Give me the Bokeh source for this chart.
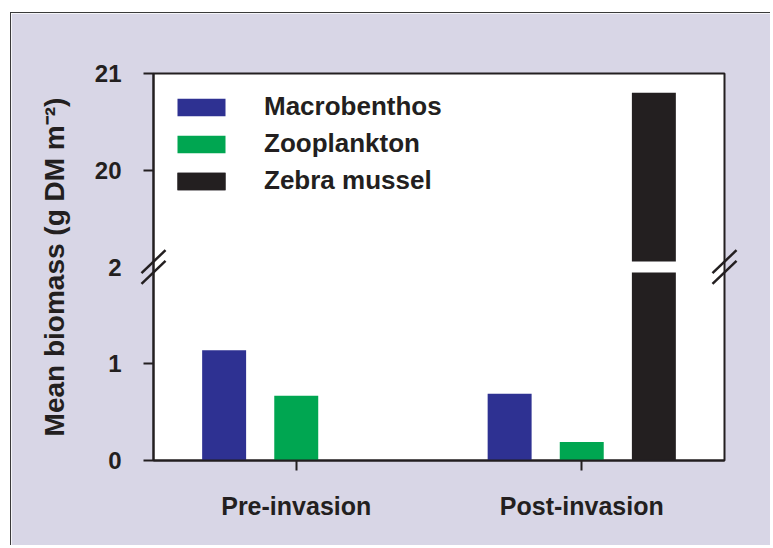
from bokeh.plotting import figure
from bokeh.models import (FactorRange, Range1d, FixedTicker, Legend, LegendItem,
                          ColumnDataSource, Spacer)
from bokeh.transform import dodge
from bokeh.layouts import column, row
from bokeh.embed import file_html
from bokeh.resources import INLINE

# ---------------- data ----------------
groups = ["Pre-invasion", "Post-invasion"]
series = ["Macrobenthos", "Zooplankton", "Zebra mussel"]
macrobenthos = [1.14, 0.69]
zooplankton = [0.67, 0.19]
zebra_mussel = [0.0, 20.8]
y_tick_values = [0, 1, 2, 20, 21]
colors = ["#2e3192", "#00a651", "#231f20"]

# ---------------- axis break ----------------
BREAK_LOW = 2.0
BREAK_HIGH = 20.0
GAP = 0.056


def to_display(v):
    if v <= BREAK_LOW:
        return v
    return BREAK_LOW + 1.0 + (v - BREAK_HIGH)


def clean(t):
    return int(t) if float(t).is_integer() else t


FONT = "Liberation Sans"
INK = "#231f20"
LAV = "#d8d6e6"
FRAME_W, FRAME_H = 570, 386

y_top = to_display(max(y_tick_values))

p = figure(x_range=FactorRange(factors=groups), y_range=Range1d(0, y_top),
           frame_width=FRAME_W, frame_height=FRAME_H,
           min_border_left=142, min_border_right=47,
           min_border_top=60, min_border_bottom=86,
           output_backend="svg", toolbar_location=None,
           background_fill_color="white", border_fill_color=LAV)
p.styles = {"border-top": "1px solid #3a3a3a", "border-left": "1px solid #3a3a3a"}

offsets = [-0.2526, 0.0, 0.2526]
bar_w = 0.154
values = [macrobenthos, zooplankton, zebra_mussel]
items = []
for name, vals, off, col in zip(series, values, offsets, colors):
    low_top = [v if v <= BREAK_LOW else BREAK_LOW - GAP for v in vals]
    src = ColumnDataSource(dict(group=groups, top=low_top))
    r = p.vbar(x=dodge("group", off, range=p.x_range), top="top", bottom=0,
               width=bar_w, source=src, fill_color=col, line_color=None)
    rs = [r]
    hi_groups = [g for g, v in zip(groups, vals) if v > BREAK_LOW]
    if hi_groups:
        hi_top = [to_display(v) for v in vals if v > BREAK_LOW]
        src2 = ColumnDataSource(dict(group=hi_groups, top=hi_top,
                                     bottom=[BREAK_LOW + GAP] * len(hi_groups)))
        r2 = p.vbar(x=dodge("group", off, range=p.x_range), top="top", bottom="bottom",
                    width=bar_w, source=src2, fill_color=col, line_color=None)
        rs.append(r2)
    items.append(LegendItem(label=name, renderers=rs))

legend = Legend(items=items, location="top_left", margin=18, padding=20,
                glyph_width=60, glyph_height=22, label_standoff=33, spacing=6,
                border_line_color=None, background_fill_alpha=0,
                label_text_font=FONT, label_text_font_size="26px",
                label_text_font_style="bold", label_text_color=INK)
p.add_layout(legend)

# ---------------- axes ----------------
yt = [clean(to_display(v)) for v in y_tick_values]
minor = [clean(to_display(v)) for v in y_tick_values if v != BREAK_LOW]
p.yaxis.ticker = FixedTicker(ticks=yt, minor_ticks=minor)
p.yaxis.major_label_overrides = {t: str(v) for t, v in zip(yt, y_tick_values)}

for ax in (p.xaxis[0], p.yaxis[0]):
    ax.axis_line_width = 2
    ax.axis_line_color = INK
    ax.major_label_text_font = FONT
    ax.major_label_text_font_style = "bold"
    ax.major_label_text_color = INK

p.yaxis.major_tick_out = 0
p.yaxis.major_tick_in = 0
p.yaxis.minor_tick_out = 10
p.yaxis.minor_tick_in = 0
p.yaxis.minor_tick_line_width = 2
p.yaxis.minor_tick_line_color = INK
p.yaxis.major_label_standoff = 22
p.yaxis.major_label_text_font_size = "24px"
p.yaxis.axis_label = "Mean biomass (g DM m\u207b\u00b2)"
p.yaxis.axis_label_text_font = FONT
p.yaxis.axis_label_text_font_size = "28px"
p.yaxis.axis_label_text_font_style = "bold"
p.yaxis.axis_label_text_color = INK
p.yaxis.axis_label_standoff = 22

p.xaxis.major_tick_out = 10
p.xaxis.major_tick_in = 0
p.xaxis.major_tick_line_width = 2
p.xaxis.major_tick_line_color = INK
p.xaxis.minor_tick_out = 0
p.xaxis.major_label_standoff = 21
p.xaxis.major_label_text_font_size = "25px"

p.xgrid.visible = False
p.ygrid.visible = False
p.outline_line_color = INK
p.outline_line_width = 2

# ---------------- break marks (both side axes) ----------------
x_per_px = len(groups) / FRAME_W
y_per_px = y_top / FRAME_H
hx = 12 * x_per_px
hy = 11.5 * y_per_px
sep = 5.3 * y_per_px

x0, x1, y0, y1 = [], [], [], []
for xc in (0, len(groups)):
    for s in (-sep, sep):
        x0.append(xc - hx)
        x1.append(xc + hx)
        y0.append(BREAK_LOW + s - hy)
        y1.append(BREAK_LOW + s + hy)
p.segment(x0=x0, y0=y0, x1=x1, y1=y1, line_color=INK, line_width=2.5, level="overlay")

root = column(Spacer(height=12), row(Spacer(width=10), p))
open("out.html", "w").write(file_html(root, INLINE))
